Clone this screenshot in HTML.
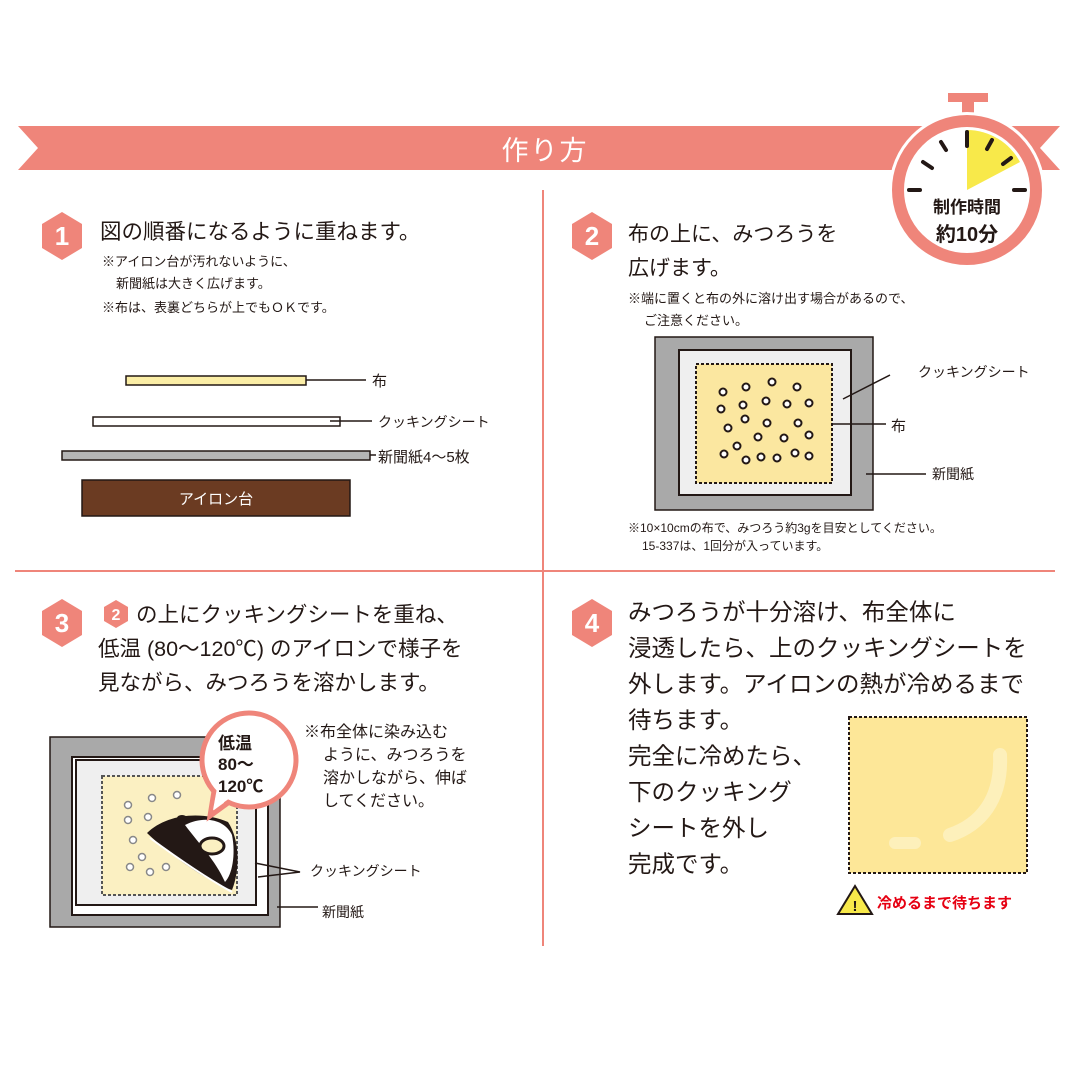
<!DOCTYPE html>
<html><head><meta charset="utf-8"><style>
html,body{margin:0;padding:0;background:#fff;}
svg{display:block;}
text{font-family:"Liberation Sans","Noto Sans CJK JP",sans-serif;fill:#231815;}
</style></head><body>
<svg width="1080" height="1080" viewBox="0 0 1080 1080" xmlns="http://www.w3.org/2000/svg">
<!-- banner -->
<polygon points="18,126 1060,126 1040,148 1060,170 18,170 38,148" fill="#ef857a"/>
<text x="545" y="160" font-size="27" text-anchor="middle" style="fill:#fff" letter-spacing="2">作り方</text>
<!-- timer -->
<rect x="948" y="93" width="40" height="9" fill="#ef857a"/>
<rect x="962" y="100" width="12" height="18" fill="#ef857a"/>
<circle cx="967" cy="190" r="78" fill="#fff"/>
<circle cx="967" cy="190" r="69" fill="#fff" stroke="#ef857a" stroke-width="12"/>
<path d="M967,190 L967,130 A60,60 0 0 1 1020,162 Z" fill="#f8e94a"/>
<g stroke="#231815" stroke-width="4" stroke-linecap="round">
<line x1="967" y1="132" x2="967" y2="146"/>
<line x1="992" y1="140" x2="987" y2="149"/>
<line x1="1011" y1="158" x2="1003" y2="164"/>
<line x1="1014" y1="190" x2="1025" y2="190"/>
<line x1="920" y1="190" x2="909" y2="190"/>
<line x1="923" y1="162" x2="932" y2="168"/>
<line x1="941" y1="142" x2="946" y2="150"/>
</g>
<text x="967" y="213" font-size="17" font-weight="bold" text-anchor="middle">制作時間</text>
<text x="967" y="241" font-size="20" font-weight="bold" text-anchor="middle">約10分</text>
<!-- dividers -->
<line x1="543" y1="190" x2="543" y2="946" stroke="#ef857a" stroke-width="2"/>
<line x1="15" y1="571" x2="1055" y2="571" stroke="#ef857a" stroke-width="2"/>
<!-- badges -->
<g fill="#ef857a">
<polygon points="62,212 82,224 82,248 62,260 42,248 42,224"/>
<polygon points="592,212 612,224 612,248 592,260 572,248 572,224"/>
<polygon points="62,599 82,611 82,635 62,647 42,635 42,611"/>
<polygon points="592,599 612,611 612,635 592,647 572,635 572,611"/>
<polygon points="116,600 128,607 128,621 116,628 104,621 104,607"/>
</g>
<g font-size="26" font-weight="bold" text-anchor="middle">
<text x="62" y="245" style="fill:#fff">1</text>
<text x="592" y="245" style="fill:#fff">2</text>
<text x="62" y="632" style="fill:#fff">3</text>
<text x="592" y="632" style="fill:#fff">4</text>
<text x="116" y="620" font-size="16" style="fill:#fff">2</text>
</g>
<!-- step 1 -->
<text x="100" y="239" font-size="21.5">図の順番になるように重ねます。</text>
<text x="102" y="266" font-size="13">※アイロン台が汚れないように、</text>
<text x="116" y="288" font-size="13">新聞紙は大きく広げます。</text>
<text x="102" y="312" font-size="13">※布は、表裏どちらが上でもＯＫです。</text>
<rect x="126" y="376" width="180" height="9" fill="#fbeea6" stroke="#231815" stroke-width="1.5"/>
<rect x="93" y="417" width="247" height="9" fill="#fff" stroke="#231815" stroke-width="1.5"/>
<rect x="62" y="451" width="308" height="9" fill="#b5b5b5" stroke="#231815" stroke-width="1.5"/>
<rect x="82" y="480" width="268" height="36" fill="#6b3b22" stroke="#231815" stroke-width="1.5"/>
<text x="216" y="504" font-size="15" text-anchor="middle" style="fill:#fff">アイロン台</text>
<g stroke="#231815" stroke-width="1.5">
<line x1="306" y1="380" x2="366" y2="380"/>
<line x1="330" y1="421" x2="372" y2="421"/>
<line x1="370" y1="455" x2="376" y2="455"/>
</g>
<text x="372" y="386" font-size="15">布</text>
<text x="378" y="427" font-size="14">クッキングシート</text>
<text x="378" y="462" font-size="15">新聞紙4〜5枚</text>
<!-- step 2 -->
<text x="628" y="241" font-size="21">布の上に、みつろうを</text>
<text x="628" y="275" font-size="21">広げます。</text>
<text x="628" y="303" font-size="13">※端に置くと布の外に溶け出す場合があるので、</text>
<text x="644" y="325" font-size="13">ご注意ください。</text>
<rect x="655" y="337" width="218" height="173" fill="#a9a9a9" stroke="#231815" stroke-width="1.5"/>
<rect x="679" y="350" width="172" height="145" fill="#efefef" stroke="#231815" stroke-width="2"/>
<rect x="696" y="364" width="136" height="119" fill="#fbe7a0" stroke="#231815" stroke-width="2" stroke-dasharray="3 2"/>
<g fill="#fff" stroke="#231815" stroke-width="2">
<circle cx="723" cy="392" r="3.5"/><circle cx="746" cy="387" r="3.5"/><circle cx="772" cy="382" r="3.5"/><circle cx="797" cy="387" r="3.5"/>
<circle cx="721" cy="409" r="3.5"/><circle cx="743" cy="405" r="3.5"/><circle cx="766" cy="401" r="3.5"/><circle cx="787" cy="404" r="3.5"/><circle cx="809" cy="403" r="3.5"/>
<circle cx="728" cy="428" r="3.5"/><circle cx="745" cy="419" r="3.5"/><circle cx="767" cy="423" r="3.5"/><circle cx="798" cy="423" r="3.5"/><circle cx="809" cy="435" r="3.5"/>
<circle cx="758" cy="437" r="3.5"/><circle cx="784" cy="438" r="3.5"/><circle cx="737" cy="446" r="3.5"/>
<circle cx="724" cy="454" r="3.5"/><circle cx="746" cy="460" r="3.5"/><circle cx="761" cy="457" r="3.5"/><circle cx="777" cy="458" r="3.5"/><circle cx="795" cy="453" r="3.5"/><circle cx="809" cy="456" r="3.5"/>
</g>
<g stroke="#231815" stroke-width="1.5">
<line x1="843" y1="399" x2="890" y2="375"/>
<line x1="832" y1="424" x2="886" y2="424"/>
<line x1="866" y1="474" x2="926" y2="474"/>
</g>
<text x="918" y="377" font-size="14">クッキングシート</text>
<text x="891" y="431" font-size="15">布</text>
<text x="932" y="479" font-size="14">新聞紙</text>
<text x="628" y="532" font-size="12">※10×10cmの布で、みつろう約3gを目安としてください。</text>
<text x="642" y="550" font-size="12">15-337は、1回分が入っています。</text>
<!-- step 3 -->
<text x="136" y="622" font-size="21.5">の上にクッキングシートを重ね、</text>
<text x="98" y="656" font-size="21.5">低温 (80〜120℃) のアイロンで様子を</text>
<text x="98" y="690" font-size="21.5">見ながら、みつろうを溶かします。</text>
<rect x="50" y="737" width="230" height="190" fill="#a9a9a9" stroke="#231815" stroke-width="1.5"/>
<rect x="72" y="757" width="196" height="158" fill="#fff" stroke="#231815" stroke-width="2"/>
<rect x="76" y="760" width="180" height="145" fill="#efefef" stroke="#231815" stroke-width="2"/>
<rect x="102" y="776" width="135" height="119" fill="#fbf0c2" stroke="#555" stroke-width="2" stroke-dasharray="3 2"/>
<g fill="#fff" stroke="#888" stroke-width="1.5">
<circle cx="128" cy="805" r="3.5"/><circle cx="152" cy="798" r="3.5"/><circle cx="177" cy="795" r="3.5"/>
<circle cx="128" cy="820" r="3.5"/><circle cx="148" cy="817" r="3.5"/>
<circle cx="133" cy="840" r="3.5"/><circle cx="142" cy="857" r="3.5"/><circle cx="130" cy="867" r="3.5"/><circle cx="150" cy="872" r="3.5"/><circle cx="166" cy="867" r="3.5"/>
</g>
<!-- iron -->
<path d="M147,833 C165,815 200,810 228,822 C240,840 240,870 232,890 C215,885 175,860 147,833 Z" fill="#231815"/>
<path d="M150,838 C180,860 210,880 232,892" stroke="#fff" stroke-width="2" fill="none"/>
<path d="M185,825 C205,815 225,820 232,835 C236,855 232,875 225,882 C215,860 200,845 185,825 Z" fill="#fff"/>
<ellipse cx="212" cy="846" rx="12" ry="8" fill="#fbf0c2" stroke="#231815" stroke-width="3"/>
<ellipse cx="182" cy="818" rx="5" ry="3" fill="#231815"/>
<!-- bubble -->
<path d="M215,785 L210,816 L232,800 Z" fill="#fff" stroke="#ef857a" stroke-width="5"/>
<circle cx="249" cy="760" r="47" fill="#fff" stroke="#ef857a" stroke-width="5"/>
<path d="M217,788 L213,810 L230,798" fill="#fff"/>
<text x="218" y="749" font-size="17" font-weight="bold">低温</text>
<text x="218" y="770" font-size="17" font-weight="bold">80〜</text>
<text x="218" y="792" font-size="17" font-weight="bold">120℃</text>
<text x="304" y="737" font-size="16">※布全体に染み込む</text>
<text x="323" y="760" font-size="16">ように、みつろうを</text>
<text x="323" y="783" font-size="16">溶かしながら、伸ば</text>
<text x="323" y="806" font-size="16">してください。</text>
<g stroke="#231815" stroke-width="1.5" fill="none">
<polyline points="255,863 300,872 258,877"/>
<line x1="277" y1="907" x2="318" y2="907"/>
</g>
<text x="310" y="876" font-size="14">クッキングシート</text>
<text x="322" y="917" font-size="14">新聞紙</text>
<!-- step 4 -->
<g font-size="23.5">
<text x="628" y="620">みつろうが十分溶け、布全体に</text>
<text x="628" y="656">浸透したら、上のクッキングシートを</text>
<text x="628" y="692">外します。アイロンの熱が冷めるまで</text>
<text x="628" y="728">待ちます。</text>
<text x="628" y="764">完全に冷めたら、</text>
<text x="628" y="800">下のクッキング</text>
<text x="628" y="836">シートを外し</text>
<text x="628" y="872">完成です。</text>
</g>
<rect x="849" y="717" width="178" height="156" fill="#fde798" stroke="#231815" stroke-width="2" stroke-dasharray="3 2"/>
<path d="M1000,755 C1002,800 980,825 950,835" stroke="#fdf0bb" stroke-width="14" stroke-linecap="round" fill="none"/>
<line x1="895" y1="843" x2="915" y2="843" stroke="#fdf0bb" stroke-width="12" stroke-linecap="round"/>
<polygon points="855,886 872,914 838,914" fill="#f8e94a" stroke="#231815" stroke-width="2"/>
<text x="855" y="911" font-size="15" font-weight="bold" text-anchor="middle">!</text>
<text x="877" y="908" font-size="15" font-weight="bold" style="fill:#e60012">冷めるまで待ちます</text>
</svg>
</body></html>
